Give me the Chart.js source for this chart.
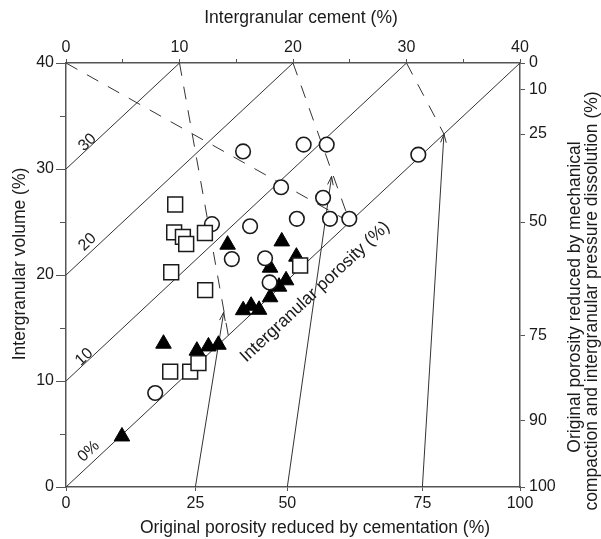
<!DOCTYPE html>
<html lang="en">
<head>
<meta charset="UTF-8">
<title>Intergranular volume vs intergranular cement</title>
<script src="https://cdn.jsdelivr.net/npm/chart.js"></script>
<style>
    body { margin: 0; background: #fff; }
    .chart-box { width: 601px; height: 539px; }
</style>
</head>
<body>
<div class="chart-box"><canvas id="igvChart"></canvas></div>
<script>
    // x = intergranular cement (%), y = intergranular volume (%)
    const circles = [[7.86, 8.87], [12.86, 24.8], [14.61, 21.5], [15.6, 31.66], [16.22, 24.6],
        [17.54, 21.58], [17.94, 19.3], [18.95, 28.28], [20.34, 25.3], [20.94, 32.3],
        [22.65, 27.29], [22.97, 32.3], [23.26, 25.3], [24.96, 25.3], [31.04, 31.35]];
    const squares = [[9.62, 26.65], [9.53, 24.02], [10.3, 23.6], [10.59, 22.92], [12.24, 23.96],
        [9.27, 20.26], [12.26, 18.58], [9.18, 10.88], [10.94, 10.88], [11.67, 11.68], [20.63, 20.9]];
    const triangles = [[4.93, 4.77], [8.59, 13.52], [11.53, 12.86], [12.55, 13.26], [13.43, 13.42],
        [14.24, 22.86], [15.61, 16.68], [16.31, 17.1], [17.01, 16.72], [17.98, 17.9],
        [18.77, 18.9], [19.39, 19.5], [17.98, 20.69], [19.01, 23.17], [20.3, 21.73]];

    // intergranular porosity isolines (IGV - cement = p)
    const porosityLevels = [0, 10, 20, 30];
    const porosityLabels = ['0%', '10', '20', '30'];
    // dashed construction lines and arrows, [start, end]
    const guideLines = [[[0, 40], [25, 25]], [[10, 40], [14.3, 14.3]], [[20, 40], [25, 25]], [[30, 40], [33.3, 33.3]]];
    const arrowLines = [[[11.4, 0], [13.9, 16.5]], [[19.5, 0], [23.4, 29.3]], [[31.4, 0], [33.3, 33.3]]];

    // tick labels of the two derived axes, placed at their cement / IGV values
    const bottomTickPos = [0, 11.4, 19.5, 31.4, 40];
    const bottomTickLabels = ['0', '25', '50', '75', '100'];
    const rightTickPos = [0, 6.25, 14.3, 25, 33.3, 37.5, 40];
    const rightTickLabels = ['100', '90', '75', '50', '25', '10', '0'];

    const FONT = '"Liberation Sans", Arial, sans-serif';
    const INK = '#1a1a1a';
    const AXIS = '#555';

    const toXY = arr => arr.map(p => ({ x: p[0], y: p[1] }));

    const datasets = [
        { label: 'squares', data: toXY(squares), pointStyle: 'rect', pointRadius: 10.5,
          backgroundColor: '#fff', borderColor: INK, borderWidth: 1.5, order: 0 },
        { label: 'circles', data: toXY(circles), pointStyle: 'circle', pointRadius: 7.3,
          backgroundColor: '#fff', borderColor: INK, borderWidth: 1.6, order: 1 },
        { label: 'triangles', data: toXY(triangles), pointStyle: 'triangle', pointRadius: 9,
          backgroundColor: '#000', borderColor: '#000', borderWidth: 1, order: 2 }
    ];
    porosityLevels.forEach(p => {
        datasets.push({ data: [{ x: 0, y: p }, { x: 40 - p, y: 40 }], showLine: true, pointRadius: 0,
            borderColor: '#333', borderWidth: 1, order: 3 });
    });
    guideLines.forEach(g => {
        datasets.push({ data: toXY(g), showLine: true, pointRadius: 0, borderColor: '#333',
            borderWidth: 1, borderDash: [13, 11], order: 3 });
    });
    arrowLines.forEach(g => {
        datasets.push({ data: toXY(g), showLine: true, pointRadius: 0, borderColor: '#333',
            borderWidth: 1, order: 3, arrow: true });
    });

    function text(ctx, str, x, y, rot, size, align) {
        ctx.save();
        ctx.translate(x, y);
        ctx.rotate(rot);
        ctx.font = size + 'px ' + FONT;
        ctx.fillStyle = INK;
        ctx.textAlign = align || 'center';
        ctx.textBaseline = 'middle';
        ctx.fillText(str, 0, 0);
        ctx.restore();
    }

    const overlay = {
        id: 'overlay',
        afterDatasetsDraw(chart) {
            const { ctx, scales: { x, y } } = chart;
            // arrow heads
            ctx.save();
            ctx.strokeStyle = '#333';
            ctx.lineWidth = 1;
            chart.data.datasets.forEach((ds, i) => {
                if (!ds.arrow) return;
                const pts = chart.getDatasetMeta(i).data;
                const a = pts[0], b = pts[1];
                const ang = Math.atan2(b.y - a.y, b.x - a.x);
                ctx.beginPath();
                ctx.moveTo(b.x - 9 * Math.cos(ang - 0.32), b.y - 9 * Math.sin(ang - 0.32));
                ctx.lineTo(b.x, b.y);
                ctx.lineTo(b.x - 9 * Math.cos(ang + 0.32), b.y - 9 * Math.sin(ang + 0.32));
                ctx.stroke();
            });
            ctx.restore();

            // isoline labels along the lines
            const rot = Math.atan2(y.getPixelForValue(40) - y.getPixelForValue(0),
                x.getPixelForValue(40) - x.getPixelForValue(0));
            const labelAt = [[2.0, 3.36], [1.6, 12.26], [1.9, 23.1], [1.9, 32.5]];
            porosityLabels.forEach((s, i) => {
                text(ctx, s, x.getPixelForValue(labelAt[i][0]), y.getPixelForValue(labelAt[i][1]), rot, 16);
            });
            text(ctx, 'Intergranular porosity (%)', x.getPixelForValue(21.94), y.getPixelForValue(18.4), rot, 17.5);
        },
        afterDraw(chart) {
            const { ctx, chartArea: a } = chart;
            const cx = (a.left + a.right) / 2;
            const cy = (a.top + a.bottom) / 2;
            text(ctx, 'Intergranular cement (%)', cx + 8, 18, 0, 17.5);
            text(ctx, 'Original porosity reduced by cementation (%)', cx + 22, 528, 0, 17.5);
            text(ctx, 'Intergranular volume (%)', 20, cy - 11, -Math.PI / 2, 17.5);
            text(ctx, 'Original porosity reduced by mechanical', 575, cy + 22, -Math.PI / 2, 17.5);
            text(ctx, 'compaction and intergranular pressure dissolution (%)', 592, cy + 26, -Math.PI / 2, 17.5);
        }
    };

    const tickFont = { family: FONT, size: 16 };
    const border = { color: AXIS, width: 1.5 };

    new Chart(document.getElementById('igvChart'), {
        type: 'scatter',
        data: { datasets },
        options: {
            responsive: true,
            maintainAspectRatio: false,
            animation: false,
            layout: { padding: 0 },
            plugins: { legend: { display: false }, tooltip: { enabled: false } },
            scales: {
                x: {
                    type: 'linear', position: 'bottom', min: 0, max: 40,
                    afterBuildTicks: s => { s.ticks = bottomTickPos.map(v => ({ value: v })); },
                    afterFit: s => { s.height = 52; },
                    ticks: { callback: (v, i) => bottomTickLabels[i], font: tickFont, color: INK,
                        padding: 3, maxRotation: 0, autoSkip: false },
                    grid: { drawOnChartArea: false, tickLength: 4, color: AXIS },
                    border
                },
                x2: {
                    type: 'linear', position: 'top', min: 0, max: 40,
                    afterFit: s => { s.height = 63; },
                    ticks: { stepSize: 5, callback: v => (v % 10 === 0 ? v : ''), font: tickFont, color: INK,
                        padding: 2, maxRotation: 0, autoSkip: false },
                    grid: { drawOnChartArea: false, tickLength: 4, color: AXIS },
                    border
                },
                y: {
                    type: 'linear', position: 'left', min: 0, max: 40,
                    afterFit: s => { s.width = 66; },
                    ticks: { stepSize: 5, callback: v => (v % 10 === 0 ? v : ''), font: tickFont, color: INK,
                        padding: 2, autoSkip: false },
                    grid: {
                        drawOnChartArea: false, tickLength: 10, color: AXIS,
                        tickBorderDash: c => (c.tick && c.tick.value % 10 !== 0 ? [6, 4] : []),
                        tickBorderDashOffset: c => (c.tick && c.tick.value % 10 !== 0 ? 6 : 0)
                    },
                    border
                },
                y2: {
                    type: 'linear', position: 'right', min: 0, max: 40,
                    afterBuildTicks: s => { s.ticks = rightTickPos.map(v => ({ value: v })); },
                    afterFit: s => { s.width = 81; },
                    ticks: { callback: (v, i) => rightTickLabels[i], font: tickFont, color: INK,
                        padding: 4, autoSkip: false },
                    grid: { drawOnChartArea: false, tickLength: 5, color: AXIS },
                    border
                }
            }
        },
        plugins: [overlay]
    });
</script>
</body>
</html>
